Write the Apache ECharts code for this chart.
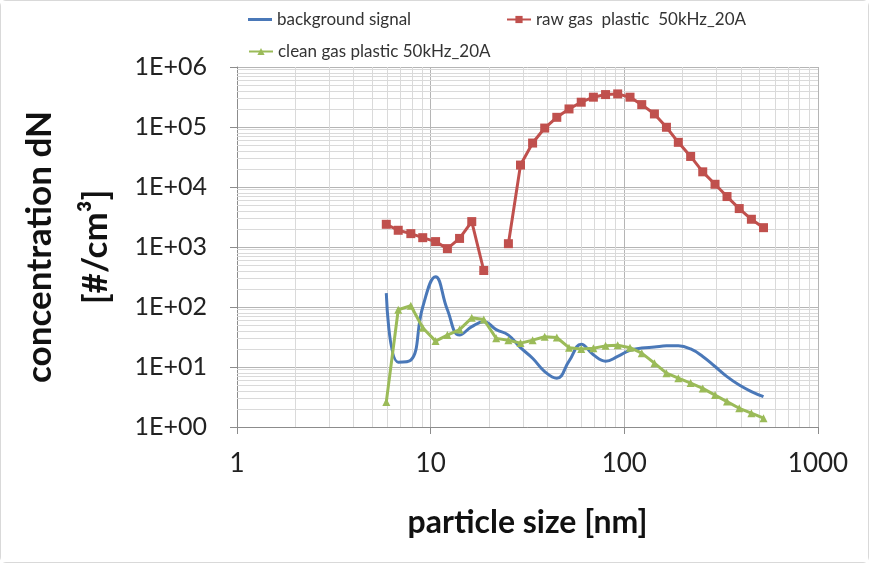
<!DOCTYPE html>
<html>
<head>
<meta charset="utf-8">
<script src="https://cdn.jsdelivr.net/npm/echarts@6/dist/echarts.min.js"></script>
<style>
html, body { margin: 0; padding: 0; background: #fff; }
#chart { width: 867px; height: 561px; border: 1px solid #d9d9d9; border-radius: 6px; }
</style>
</head>
<body>
<div id="chart"></div>
<script>
// particle diameters (nm), one per SMPS channel
const diameters = [5.9, 6.8, 7.9, 9.1, 10.6, 12.2, 14.1, 16.3, 18.8, 21.8, 25.2, 29.1, 33.6, 38.8,
  44.8, 51.8, 59.9, 69.2, 80.0, 92.4, 107, 123, 143, 165, 190, 220, 254, 294, 339, 392, 453, 523];
const background = [170, 12, 13, 100, 320, 90, 34, 47, 57, 42, 34, 21, 14, 8.4,
  6.5, 12.5, 24, 16, 12.5, 15, 19, 20.7, 21.5, 22.5, 22.5, 20, 15, 10.2, 6.9, 5.0, 3.9, 3.2];
const rawGas = [2390, 1900, 1670, 1430, 1230, 940, 1390, 2650, 406, null, 1135, 23200, 54000, 96000,
  145000, 200000, 259000, 314000, 347000, 356000, 314000, 236000, 165000, 99000, 55500, 32300, 17900, 11100, 6930, 4370, 2900, 2100];
const cleanGas = [2.6, 90, 105, 45, 27, 34, 42, 66, 62, 30, 28, 25, 28, 32,
  31, 21, 20, 20.5, 22.5, 23, 21, 17, 11.6, 7.9, 6.5, 5.4, 4.4, 3.4, 2.65, 2.05, 1.7, 1.4];

const seriesNames = ['background signal', 'raw gas  plastic  50kHz_20A', 'clean gas plastic 50kHz_20A'];
const xDecades = [1, 10, 100];
const yDecades = [1, 10, 100, 1000, 10000, 100000];

const FONT = 'Lato';
const pairs = (vals) => diameters.map((d, i) => [d, vals[i]]);

// minor gridlines at 2..9 of each decade (Excel style log grid)
const minorLines = [];
xDecades.forEach((b) => { for (let k = 2; k <= 9; k++) minorLines.push({ xAxis: b * k }); });
yDecades.forEach((b) => { for (let k = 2; k <= 9; k++) minorLines.push({ yAxis: b * k }); });

const chart = echarts.init(document.getElementById('chart'), null, { renderer: 'canvas' });

const legendBase = {
  itemWidth: 24,
  itemHeight: 9,
  textStyle: { fontFamily: FONT, fontSize: 17, color: '#333' },
  selectedMode: false
};

chart.setOption({
  animation: false,
  backgroundColor: '#fff',
  grid: { left: 236, right: 50, top: 66, bottom: 135, outerBoundsMode: 'none', containLabel: false },
  legend: [
    Object.assign({}, legendBase, { data: [{ name: seriesNames[0], icon: 'rect' }], left: 242, top: 5, itemHeight: 3 }),
    Object.assign({ data: [seriesNames[1]], left: 500, top: 5 }, legendBase),
    Object.assign({ data: [seriesNames[2]], left: 242, top: 37 }, legendBase)
  ],
  xAxis: {
    type: 'log',
    logBase: 10,
    min: 1,
    max: 1000,
    splitNumber: 3,
    name: 'particle size [nm]',
    nameLocation: 'middle',
    nameGap: 80,
    nameTextStyle: { fontFamily: FONT, fontWeight: 'bold', fontSize: 32, color: '#111' },
    axisLine: { lineStyle: { color: '#8c8c8c', width: 1 } },
    axisTick: { show: true, length: 7, lineStyle: { color: '#8c8c8c' } },
    axisLabel: { fontFamily: FONT, fontSize: 26, color: '#222', margin: 24, formatter: (v) => String(v) },
    splitLine: { show: true, lineStyle: { color: '#b5b5b5', width: 1 } }
  },
  yAxis: {
    type: 'log',
    logBase: 10,
    min: 1,
    max: 1000000,
    splitNumber: 6,
    name: 'concentration dN\n[#/cm³]',
    nameLocation: 'middle',
    nameRotate: 90,
    nameGap: 110,
    nameTextStyle: { fontFamily: FONT, fontWeight: 'bold', fontSize: 35, color: '#111', lineHeight: 56 },
    axisLine: { show: true, lineStyle: { color: '#8c8c8c', width: 1 } },
    axisTick: { show: true, length: 7, lineStyle: { color: '#8c8c8c' } },
    axisLabel: {
      fontFamily: FONT, fontSize: 25, color: '#222', margin: 30,
      formatter: (v) => '1E+' + String(Math.round(Math.log10(v))).padStart(2, '0')
    },
    splitLine: { show: true, lineStyle: { color: '#b5b5b5', width: 1 } }
  },
  series: [
    {
      name: 'grid-minor',
      type: 'line',
      data: [],
      silent: true,
      zlevel: 0,
      z: 1,
      markLine: {
        silent: true,
        symbol: 'none',
        label: { show: false },
        animation: false,
        lineStyle: { color: '#dadada', width: 1, type: 'solid' },
        data: minorLines
      }
    },
    {
      name: seriesNames[0],
      type: 'line',
      data: pairs(background),
      smooth: 0.45,
      showSymbol: false,
      symbol: 'none',
      zlevel: 1,
      z: 3,
      lineStyle: { color: '#4a78b8', width: 3 },
      itemStyle: { color: '#4a78b8' }
    },
    {
      name: seriesNames[1],
      type: 'line',
      data: pairs(rawGas),
      connectNulls: false,
      symbol: 'rect',
      symbolSize: 9,
      zlevel: 1,
      z: 4,
      lineStyle: { color: '#c0504d', width: 3 },
      itemStyle: { color: '#c0504d' }
    },
    {
      name: seriesNames[2],
      type: 'line',
      data: pairs(cleanGas),
      symbol: 'triangle',
      symbolSize: 8,
      zlevel: 1,
      z: 3,
      lineStyle: { color: '#9bbb59', width: 3 },
      itemStyle: { color: '#9bbb59' }
    }
  ]
});
</script>
</body>
</html>
